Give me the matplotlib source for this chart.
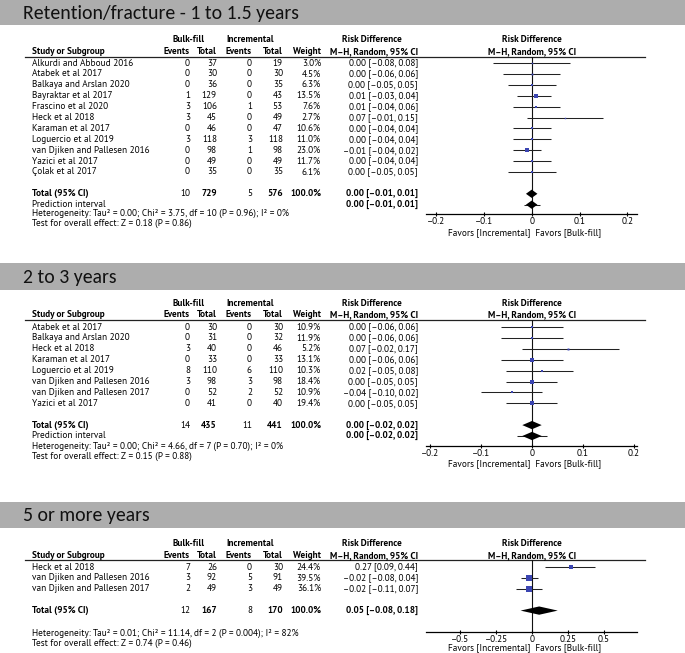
import matplotlib
matplotlib.use("Agg")
import matplotlib.pyplot as plt
from matplotlib import font_manager
from matplotlib.patches import Polygon, Rectangle

# ---------------- data ----------------
titles = ["Retention/fracture - 1 to 1.5 years", "2 to 3 years", "5 or more years"]

names1 = ["Alkurdi and Abboud 2016", "Atabek et al 2017", "Balkaya and Arslan 2020",
          "Bayraktar et al 2017", "Frascino et al 2020", "Heck et al 2018",
          "Karaman et al 2017", "Loguercio et al 2019", "van Djiken and Pallesen 2016",
          "Yazici et al 2017", "Çolak et al 2017"]
ev_b1 = [0, 0, 0, 1, 3, 3, 0, 3, 0, 0, 0]
tot_b1 = [37, 30, 36, 129, 106, 45, 46, 118, 98, 49, 35]
ev_i1 = [0, 0, 0, 0, 1, 0, 0, 3, 1, 0, 0]
tot_i1 = [19, 30, 35, 43, 53, 49, 47, 118, 98, 49, 35]
w1 = [3.0, 4.5, 6.3, 13.5, 7.6, 2.7, 10.6, 11.0, 23.0, 11.7, 6.1]
rd1 = [0.00, 0.00, 0.00, 0.01, 0.01, 0.07, 0.00, 0.00, -0.01, 0.00, 0.00]
lo1 = [-0.08, -0.06, -0.05, -0.03, -0.04, -0.01, -0.04, -0.04, -0.04, -0.04, -0.05]
hi1 = [0.08, 0.06, 0.05, 0.04, 0.06, 0.15, 0.04, 0.04, 0.02, 0.04, 0.05]
total1 = (0.0, -0.012, 0.012)
pi1 = (-0.017, 0.017)
het1 = "Heterogeneity: Tau² = 0.00; Chi² = 3.75, df = 10 (P = 0.96); I² = 0%"
test1 = "Test for overall effect: Z = 0.18 (P = 0.86)"
ticks1 = [-0.2, -0.1, 0, 0.1, 0.2]

names2 = ["Atabek et al 2017", "Balkaya and Arslan 2020", "Heck et al 2018",
          "Karaman et al 2017", "Loguercio et al 2019", "van Djiken and Pallesen 2016",
          "van Djiken and Pallesen 2017", "Yazici et al 2017"]
ev_b2 = [0, 0, 3, 0, 8, 3, 0, 0]
tot_b2 = [30, 31, 40, 33, 110, 98, 52, 41]
ev_i2 = [0, 0, 0, 0, 6, 3, 2, 0]
tot_i2 = [30, 32, 46, 33, 110, 98, 52, 40]
w2 = [10.9, 11.9, 5.2, 13.1, 10.3, 18.4, 10.9, 19.4]
rd2 = [0.00, 0.00, 0.07, 0.00, 0.02, 0.00, -0.04, 0.00]
lo2 = [-0.06, -0.06, -0.02, -0.06, -0.05, -0.05, -0.10, -0.05]
hi2 = [0.06, 0.06, 0.17, 0.06, 0.08, 0.05, 0.02, 0.05]
total2 = (0.0, -0.019, 0.019)
pi2 = (-0.030, 0.029)
het2 = "Heterogeneity: Tau² = 0.00; Chi² = 4.66, df = 7 (P = 0.70); I² = 0%"
test2 = "Test for overall effect: Z = 0.15 (P = 0.88)"
ticks2 = [-0.2, -0.1, 0, 0.1, 0.2]

names3 = ["Heck et al 2018", "van Djiken and Pallesen 2016", "van Djiken and Pallesen 2017"]
ev_b3 = [7, 3, 2]
tot_b3 = [26, 92, 49]
ev_i3 = [0, 5, 3]
tot_i3 = [30, 91, 49]
w3 = [24.4, 39.5, 36.1]
rd3 = [0.27, -0.02, -0.02]
lo3 = [0.09, -0.08, -0.11]
hi3 = [0.44, 0.04, 0.07]
total3 = (0.05, -0.08, 0.18)
pi3 = None
het3 = "Heterogeneity: Tau² = 0.01; Chi² = 11.14, df = 2 (P = 0.004); I² = 82%"
test3 = "Test for overall effect: Z = 0.74 (P = 0.46)"
ticks3 = [-0.5, -0.25, 0, 0.25, 0.5]

total_weight = "100.0%"

# ---------------- setup ----------------
W, H = 685, 653
fig = plt.figure(figsize=(W / 100, H / 100), dpi=100)
bg = fig.add_axes([0, 0, 1, 1])
bg.set_xlim(0, W)
bg.set_ylim(H, 0)
bg.axis("off")


def have(name):
    try:
        font_manager.findfont(name, fallback_to_default=False)
        return True
    except ValueError:
        return False


if have("PT Sans"):
    FAM, FS = ["PT Sans", "DejaVu Sans"], 6.7
else:
    FAM, FS = ["DejaVu Sans"], 5.7
TFAM = ["Carlito", "Lato", "DejaVu Sans"] if have("Carlito") else ["Lato", "DejaVu Sans"]
TFS = 14.2 if have("Carlito") else 12.8

BLUE = "#3b45b2"


def t(x, y, s, ha="left", bold=False, **kw):
    bg.text(x, y, s, ha=ha, va="center", family=FAM, fontsize=FS,
            fontweight="bold" if bold else "normal", **kw)


def ci(e, l, h):
    return f"{e:.2f} [{l:.2f}, {h:.2f}]".replace("-", "–")


def fmt_tick(v):
    return f"{v:g}".replace("-", "–")


def panel(title, bar, head1, line_y, row0, axis_y, xlim, names, eb, tb, ei, ti, w,
          rd, lo, hi, total, pi, het, test, het_y, ticks, fav_dy, h=10.9):
    # title bar
    bg.add_patch(Rectangle((0, bar[0]), W, bar[1] - bar[0], color="#adadad", lw=0))
    bg.text(23, (bar[0] + bar[1]) / 2 + 0.5, title, ha="left", va="center",
            family=TFAM, fontsize=TFS, color="#111111")

    # column headers
    h2 = head1 + 11.5
    t(189, head1, "Bulk-fill", ha="center", bold=True)
    t(250, head1, "Incremental", ha="center", bold=True)
    t(372, head1, "Risk Difference", ha="center", bold=True)
    t(532, head1, "Risk Difference", ha="center", bold=True)
    t(32, h2, "Study or Subgroup", bold=True)
    for x, s in [(190, "Events"), (217, "Total"), (252, "Events"), (283, "Total"), (321, "Weight")]:
        t(x, h2, s, ha="right", bold=True)
    t(418, h2, "M–H, Random, 95% CI", ha="right", bold=True)
    t(532, h2, "M–H, Random, 95% CI", ha="center", bold=True)
    bg.plot([25, 645], [line_y, line_y], color="#222222", lw=0.9)

    # study rows
    n = len(names)
    for i in range(n):
        y = row0 + i * h
        t(32, y, names[i])
        t(190, y, str(eb[i]), ha="right")
        t(217, y, str(tb[i]), ha="right")
        t(252, y, str(ei[i]), ha="right")
        t(283, y, str(ti[i]), ha="right")
        t(321, y, f"{w[i]:.1f}%", ha="right")
        t(418, y, ci(rd[i], lo[i], hi[i]), ha="right")

    # totals
    yt = row0 + (n + 1) * h
    t(32, yt, "Total (95% CI)", bold=True)
    t(190, yt, str(sum(eb)), ha="right")
    t(217, yt, str(sum(tb)), ha="right", bold=True)
    t(252, yt, str(sum(ei)), ha="right")
    t(283, yt, str(sum(ti)), ha="right", bold=True)
    t(321, yt, total_weight, ha="right", bold=True)
    t(418, yt, ci(*total), ha="right", bold=True)
    if pi is not None:
        yp = yt + h - 0.5
        t(32, yp, "Prediction interval")
        t(418, yp, ci(*total), ha="right", bold=True)
    t(32, het_y, het)
    t(32, het_y + 10.5, test)

    # forest plot
    fax = fig.add_axes([426 / W, 1 - axis_y / H, (637 - 426) / W, (axis_y - line_y) / H])
    fax.patch.set_alpha(0)
    fax.set_xlim(*xlim)
    fax.set_ylim((axis_y - row0) / h, (line_y - row0) / h)
    for s in ["left", "right", "top"]:
        fax.spines[s].set_visible(False)
    fax.spines["bottom"].set_linewidth(0.9)
    fax.set_yticks([])
    fax.set_xticks(ticks)
    fax.set_xticklabels([fmt_tick(v) for v in ticks], family=FAM, fontsize=FS)
    fax.tick_params(axis="x", direction="inout", length=3.5, width=0.8, pad=0.3)
    fax.axvline(0, color="#111111", lw=0.8, zorder=1)

    ys = list(range(n))
    fax.hlines(ys, lo, hi, color="#222222", lw=0.75, zorder=2)
    for i in range(n):
        fax.plot(rd[i], i, marker="s", ms=0.62 * w[i] ** 0.5, color=BLUE, mec=BLUE,
                 mew=0, zorder=3)

    def diamond(y, e, l, r, dh=0.38):
        fax.add_patch(Polygon([(l, y), (e, y - dh), (r, y), (e, y + dh)],
                              closed=True, color="black", lw=0, zorder=4))

    diamond(n + 1, *total)
    if pi is not None:
        fax.hlines(n + 2, pi[0], pi[1], color="#222222", lw=0.75, zorder=3)
        diamond(n + 2, *total)

    t(525, axis_y + fav_dy, "Favors [Incremental]  Favors [Bulk-fill]", ha="center")


panel(titles[0], (0, 25), 40, 56.5, 63, 214, (-0.2209, 0.2201),
      names1, ev_b1, tot_b1, ev_i1, tot_i1, w1, rd1, lo1, hi1, total1, pi1,
      het1, test1, 213, ticks1, 18.5)
panel(titles[1], (263, 290), 303, 320, 327, 446, (-0.2078, 0.2059),
      names2, ev_b2, tot_b2, ev_i2, tot_i2, w2, rd2, lo2, hi2, total2, pi2,
      het2, test2, 446, ticks2, 17.5)
panel(titles[2], (502, 528), 544, 560, 567, 632, (-0.741, 0.734),
      names3, ev_b3, tot_b3, ev_i3, tot_i3, w3, rd3, lo3, hi3, total3, pi3,
      het3, test3, 633, ticks3, 15.5)

fig.savefig("out.png", dpi=100)
